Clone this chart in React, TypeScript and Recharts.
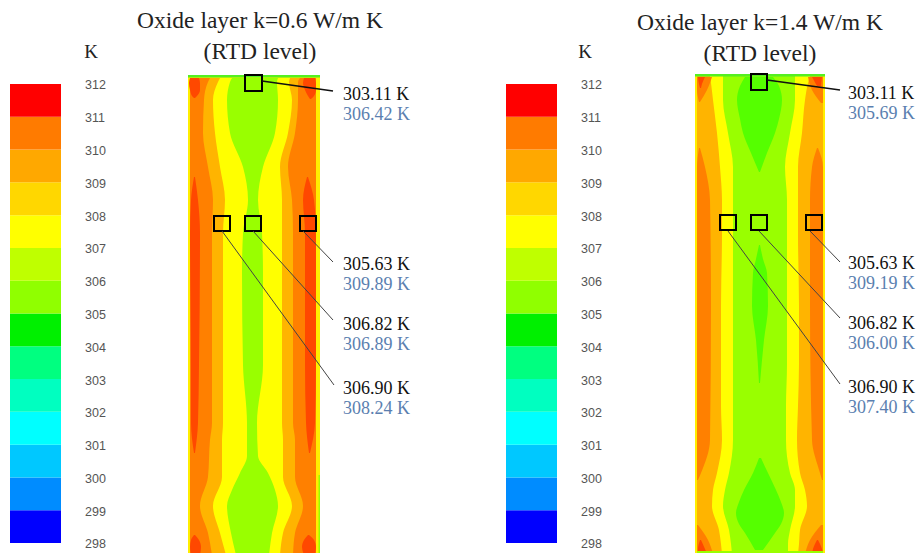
import { Area, Bar, BarChart, ComposedChart, ReferenceArea, ReferenceDot, ReferenceLine, XAxis, YAxis } from 'recharts'

const SERIF = '"Liberation Serif", serif'

// colour scale
const levels = [298, 299, 300, 301, 302, 303, 304, 305, 306, 307, 308, 309, 310, 311, 312]
const bandColors = ['#0000ff', '#008cff', '#00c8ff', '#00ffff', '#00ffc0', '#00ff80', '#00f000', '#90ff00', '#bfff00', '#ffff00', '#ffd700', '#ffa800', '#ff7b00', '#ff0000']
const scaleRow = [{ name: 'K', b0: 1, b1: 1, b2: 1, b3: 1, b4: 1, b5: 1, b6: 1, b7: 1, b8: 1, b9: 1, b10: 1, b11: 1, b12: 1, b13: 1 }]

const RIM = '#ffee00'
const AMBER = '#ffb400'
const ORANGE = '#ff8000'
const HOT = '#ff4800'
const YELLOW = '#ffff00'
const LIME = '#99ff00'
const GREEN = '#55ff00'
const CAP = '#55f020'

// contour bands: [depth along channel, left edge, right edge]
const rimA = [[0, 0, 132], [480, 0, 132]]
const orangeA = [[3, 2, 128], [480, 2, 128]]
const amberA = [[3, 22, 112], [7, 20, 110], [25, 16, 110], [58, 15, 107], [92, 20, 100], [125, 25, 104], [158, 24, 105], [198, 24, 105], [290, 24, 105], [348, 24, 105], [365, 22, 107], [402, 20, 107], [431, 12, 115], [458, 20, 107], [480, 24, 105]]
const yellowA = [[3, 32, 102], [7, 30, 101], [25, 25, 104], [58, 27, 100], [92, 32, 92], [125, 37, 94], [158, 35, 94], [198, 35, 94], [290, 35, 94], [348, 35, 94], [365, 34, 95], [402, 34, 95], [431, 25, 104], [458, 32, 95], [480, 38, 92]]
const limeA = [[3, 44, 90], [7, 42, 89], [25, 39, 90], [58, 42, 87], [92, 55, 75], [125, 60, 70], [158, 55, 74], [198, 54, 75], [290, 55, 75], [348, 59, 69], [381, 59, 70], [398, 52, 80], [415, 44, 87], [431, 39, 90], [458, 43, 84], [480, 48, 81]]
const hotA1 = [[3, 2, 11], [8, 1, 12], [15, 2, 12], [21, 4, 9], [23, 6, 7]]
const hotA2 = [[3, 116, 127], [8, 115, 128], [15, 117, 128], [21, 120, 126], [24, 122, 123]]
const hotA3 = [[102, 6, 7], [125, 3, 10], [158, 2, 12], [290, 3, 11], [348, 3, 10], [378, 6, 7]]
const hotA4 = [[102, 119, 120], [125, 115, 126], [158, 117, 128], [290, 117, 128], [348, 118, 127], [378, 121, 122]]
const hotA5 = [[460, 6, 7], [465, 3, 11], [472, 2, 13], [480, 3, 12]]
const hotA6 = [[460, 120, 121], [465, 116, 126], [472, 114, 128], [480, 116, 127]]
const capA = [[0, 0, 132], [2.5, 0, 132]]
const edgeA = [[400, 130.5, 132], [480, 130.5, 132]]

const rimB = [[0, 0, 130], [480, 0, 130]]
const amberB = [[2, 2, 128], [480, 2, 128]]
const yellowB = [[2, 15, 115], [9, 16, 113], [26, 18, 110], [59, 22, 107], [93, 25, 103], [126, 27, 103], [160, 27, 103], [232, 26, 104], [290, 26, 104], [332, 26, 103], [366, 27, 102], [399, 22, 105], [416, 18, 110], [432, 17, 112], [456, 24, 105], [470, 26, 104], [480, 27, 103]]
const limeB = [[2, 28, 100], [9, 28, 100], [26, 28, 100], [59, 33, 95], [93, 38, 90], [126, 38, 92], [160, 38, 92], [232, 38, 92], [290, 38, 92], [332, 38, 91], [366, 38, 91], [399, 34, 95], [416, 30, 100], [432, 28, 100], [456, 34, 95], [470, 36, 93], [480, 37, 93]]
const greenB1 = [[3, 50, 78], [12, 45, 84], [26, 42, 87], [45, 45, 84], [59, 48, 80], [79, 56, 72], [98, 64, 65]]
const greenB2 = [[171, 64, 65], [185, 61, 68], [199, 58, 72], [232, 57, 73], [266, 61, 69], [309, 64, 65]]
const greenB3 = [[384, 64, 66], [399, 58, 73], [416, 49, 81], [428, 44, 86], [439, 41, 89], [450, 44, 86], [459, 50, 80], [476, 60, 68]]
const orangeB1 = [[3, 2, 17], [16, 2, 12], [28, 4, 5]]
const orangeB2 = [[3, 113, 128], [16, 117, 128], [29, 126, 128]]
const orangeB3 = [[74, 4, 5], [93, 2, 10], [126, 2, 15], [232, 2, 16], [366, 2, 15], [399, 2, 6], [406, 2, 3]]
const orangeB4 = [[74, 122, 123], [93, 117, 128], [126, 115, 128], [232, 115, 128], [366, 117, 128], [399, 125, 128], [406, 127, 128]]
const orangeB5 = [[451, 2, 3], [466, 2, 13], [480, 2, 18]]
const orangeB6 = [[451, 126, 128], [466, 115, 128], [480, 110, 128]]
const hotB1 = [[3, 3, 10], [10, 4, 7], [14, 5, 6]]
const hotB2 = [[3, 117, 127], [12, 122, 126]]
const hotB3 = [[466, 5, 6], [475, 3, 10], [480, 3, 12]]
const hotB4 = [[466, 122, 123], [475, 118, 127], [480, 117, 128]]
const capB = [[0, 0, 130], [2.5, 0, 130]]
const capB2 = [[477, 2, 128], [480, 2, 128]]

const layersA = [
  { rows: rimA, color: RIM }, { rows: orangeA, color: ORANGE }, { rows: amberA, color: AMBER }, { rows: yellowA, color: YELLOW }, { rows: limeA, color: LIME },
  { rows: hotA1, color: HOT }, { rows: hotA2, color: HOT }, { rows: hotA3, color: HOT }, { rows: hotA4, color: HOT }, { rows: hotA5, color: HOT }, { rows: hotA6, color: HOT },
  { rows: capA, color: CAP }, { rows: edgeA, color: LIME },
]
const layersB = [
  { rows: rimB, color: RIM }, { rows: amberB, color: AMBER }, { rows: yellowB, color: YELLOW }, { rows: limeB, color: LIME },
  { rows: greenB1, color: GREEN }, { rows: greenB2, color: GREEN }, { rows: greenB3, color: GREEN },
  { rows: orangeB1, color: ORANGE }, { rows: orangeB2, color: ORANGE }, { rows: orangeB3, color: ORANGE }, { rows: orangeB4, color: ORANGE }, { rows: orangeB5, color: ORANGE }, { rows: orangeB6, color: ORANGE },
  { rows: hotB1, color: HOT }, { rows: hotB2, color: HOT }, { rows: hotB3, color: HOT }, { rows: hotB4, color: HOT },
  { rows: capB, color: CAP }, { rows: capB2, color: LIME },
]

// probes: box x0, x1, row0, row1, leader start x, start row, leader end x, end row, label row, labels
const probesA = [
  [57, 74, 0, 16, 74, 6, 145, 16, 19, '303.11 K', '306.42 K'],
  [112, 128, 141, 156, 115, 156, 145, 187, 189, '305.63 K', '309.89 K'],
  [57, 73, 141, 156, 65, 156, 145, 245, 249, '306.82 K', '306.89 K'],
  [26, 42, 141, 156, 34, 156, 146, 310, 313, '306.90 K', '308.24 K'],
]
const probesB = [
  [56, 72, 0, 16, 72, 6, 145, 16, 18.5, '303.11 K', '305.69 K'],
  [111, 127, 141, 156, 115, 157, 145, 188, 189, '305.63 K', '309.19 K'],
  [56, 72, 141, 156, 64, 157, 145, 244, 248.5, '306.82 K', '306.00 K'],
  [25, 41, 141, 156, 33, 157, 145, 310, 313, '306.90 K', '307.40 K'],
]

function toPoints(rows: number[][]) {
  return rows.map(([row, lo, hi]) => ({ row, range: [lo, hi] }))
}

function ColorScale({ left }: { left: number }) {
  return (
    <div style={{ position: 'absolute', left, top: 75 }}>
      <BarChart width={110} height={478} data={scaleRow} margin={{ top: 9, right: 0, bottom: 10, left: 5 }} barCategoryGap={0} style={{ fontFamily: '"Liberation Sans", sans-serif' }}>
        <XAxis dataKey="name" hide />
        <YAxis orientation="right" width={44} type="number" domain={[0, 14]} ticks={levels.map((l) => l - 298)} interval={0} tickFormatter={(v: number) => String(levels[v])} axisLine={false} tickLine={false} tickMargin={13} tick={{ fill: '#555', fontSize: 12.5, dy: 1 }} />
        {bandColors.map((c, i) => (
          <Bar key={c} dataKey={`b${i}`} stackId="scale" fill={c} barSize={51} isAnimationActive={false} />
        ))}
      </BarChart>
    </div>
  )
}

function Channel({ left, top, width, labelX, layers, probes }: { left: number; top: number; width: number; labelX: number; layers: { rows: number[][]; color: string }[]; probes: any[][] }) {
  return (
    <div style={{ position: 'absolute', left, top }}>
      <ComposedChart layout="vertical" width={width} height={553 - top} margin={{ top: 0, right: 0, bottom: 0, left: 0 }} style={{ fontFamily: SERIF }}>
        <XAxis type="number" domain={[0, width]} hide allowDataOverflow />
        <YAxis type="number" dataKey="row" domain={[-5, 548 - top]} hide allowDataOverflow />
        {layers.map((l, i) => (
          <Area key={i} data={toPoints(l.rows)} dataKey="range" type="monotone" fill={l.color} fillOpacity={1} stroke="none" dot={false} activeDot={false} isAnimationActive={false} />
        ))}
        {probes.map((p, i) => (
          <ReferenceLine key={`l${i}`} segment={[{ x: p[4], y: p[5] }, { x: p[6], y: p[7] }]} stroke={i === 0 ? '#111' : '#444'} strokeWidth={i === 0 ? 1.5 : 1} ifOverflow="visible" />
        ))}
        {probes.map((p, i) => (
          <ReferenceArea key={`a${i}`} x1={p[0]} x2={p[1]} y1={p[2]} y2={p[3]} fill="none" stroke="#000" strokeWidth={2} ifOverflow="visible" />
        ))}
        {probes.map((p, i) => (
          <ReferenceDot key={`t${i}`} x={labelX} y={p[8]} r={0} fill="none" stroke="none" ifOverflow="visible" label={{ value: p[9], position: 'right', offset: 0, fill: '#111', fontSize: 18 }} />
        ))}
        {probes.map((p, i) => (
          <ReferenceDot key={`u${i}`} x={labelX} y={(p[8] as number) + 20} r={0} fill="none" stroke="none" ifOverflow="visible" label={{ value: p[10], position: 'right', offset: 0, fill: '#5b7fb0', fontSize: 18 }} />
        ))}
      </ComposedChart>
    </div>
  )
}

function Heading({ x, y, text, size = 23.5 }: { x: number; y: number; text: string; size?: number }) {
  return (
    <div style={{ position: 'absolute', left: x - 200, top: y - 15, width: 400, height: 30, lineHeight: '30px', textAlign: 'center', fontFamily: SERIF, fontSize: size, color: '#222' }}>
      {text}
    </div>
  )
}

export default function App() {
  return (
    <div style={{ position: 'absolute', left: 0, top: 0, width: 920, height: 553, background: '#fff', overflow: 'hidden' }}>
      <Heading x={260} y={20} text="Oxide layer k=0.6 W/m K" />
      <Heading x={260} y={51} text="(RTD level)" />
      <Heading x={760} y={22} text="Oxide layer k=1.4 W/m K" />
      <Heading x={760} y={53} text="(RTD level)" />
      <Heading x={91} y={52} text="K" size={19} />
      <Heading x={585} y={52} text="K" size={19} />
      <ColorScale left={0} />
      <ColorScale left={495.5} />
      <Channel left={188} top={70} width={240} labelX={155} layers={layersA} probes={probesA} />
      <Channel left={695} top={69} width={225} labelX={153} layers={layersB} probes={probesB} />
    </div>
  )
}
